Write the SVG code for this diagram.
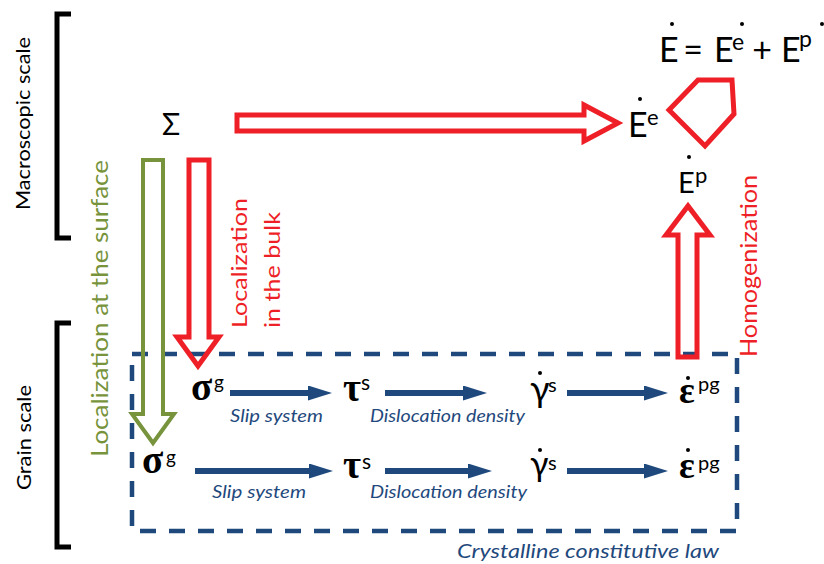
<svg xmlns="http://www.w3.org/2000/svg" width="824" height="564" viewBox="0 0 824 564">
<style>
.sans{font-family:Lato,"Liberation Sans",sans-serif;fill:#000}
.lbl{font-family:Lato,"Liberation Sans",sans-serif;font-size:20px;fill:#000}
.grk{font-family:"Liberation Serif","DejaVu Serif",serif;font-weight:bold;font-size:39px;fill:#000}
.sup{font-family:Lato,"Liberation Sans",sans-serif;font-size:20px;fill:#000}
.it{font-family:Lato,"Liberation Sans",sans-serif;font-style:italic;font-size:17px;fill:#1F497D}
.red{fill:#EE1F26}
.grn{fill:#77933C}
.blk{fill:none;stroke:#EE1F26;stroke-width:5;stroke-linejoin:miter}
.gblk{fill:none;stroke:#77933C;stroke-width:4;stroke-linejoin:miter}
.ba{stroke:#1F497D;stroke-width:6;fill:none}
.dot{fill:#000}
.br{fill:none;stroke:#000;stroke-width:5}
</style>
<defs>
<marker id="ah" viewBox="0 0 24 15" markerUnits="userSpaceOnUse" markerWidth="24" markerHeight="15" refX="12" refY="7.5" orient="auto">
<path d="M0,0 L24,7.5 L0,15 Z" fill="#1F497D"/>
</marker>
</defs>

<g id="scales">
<path class="br" d="M71,14 H57 V238 H71"/>
<path class="br" d="M71,323 H57 V547 H71"/>
<text class="lbl" transform="translate(30,210) rotate(-90)" textLength="173" lengthAdjust="spacingAndGlyphs">Macroscopic scale</text>
<text class="lbl" transform="translate(31,490) rotate(-90)" textLength="105" lengthAdjust="spacingAndGlyphs">Grain scale</text>
</g>

<g id="box">
<rect x="132" y="354" width="605" height="177" fill="none" stroke="#1F497D" stroke-width="4.5" stroke-dasharray="16 13"/>
<text class="it" x="457" y="558" style="font-size:19px" textLength="262" lengthAdjust="spacingAndGlyphs">Crystalline constitutive law</text>
</g>

<g id="connectors">
<polygon class="gblk" points="143,160 163,160 163,414 174,414 153,443 132,414 143,414"/>
<polygon class="blk" points="189,160 209,160 209,337 219,337 198,366 177,337 189,337"/>
<polygon class="blk" points="237,115 584,115 584,105 618,123 584,141 584,131 237,131"/>
<polygon class="blk" points="678,357 697,357 697,235 710,235 688,206 666,235 678,235"/>
<line class="ba" x1="230" y1="393" x2="320" y2="393" marker-end="url(#ah)"/>
<line class="ba" x1="385" y1="393" x2="475" y2="393" marker-end="url(#ah)"/>
<line class="ba" x1="567" y1="393" x2="656" y2="393" marker-end="url(#ah)"/>
<line class="ba" x1="195" y1="471" x2="321" y2="471" marker-end="url(#ah)"/>
<line class="ba" x1="385" y1="471" x2="480" y2="471" marker-end="url(#ah)"/>
<line class="ba" x1="567" y1="471" x2="656" y2="471" marker-end="url(#ah)"/>
</g>

<g id="arrow-labels">
<text class="grn" transform="translate(108,457) rotate(-90)" style="font-family:Lato,'Liberation Sans',sans-serif;font-size:23px" textLength="297" lengthAdjust="spacingAndGlyphs">Localization at the surface</text>
<text class="red" transform="translate(247,328) rotate(-90)" style="font-family:Lato,'Liberation Sans',sans-serif;font-size:22px" textLength="130" lengthAdjust="spacingAndGlyphs">Localization</text>
<text class="red" transform="translate(280,328) rotate(-90)" style="font-family:Lato,'Liberation Sans',sans-serif;font-size:22px" textLength="116" lengthAdjust="spacingAndGlyphs">in the bulk</text>
<text class="red" transform="translate(757,357) rotate(-90)" style="font-family:Lato,'Liberation Sans',sans-serif;font-size:23px" textLength="182" lengthAdjust="spacingAndGlyphs">Homogenization</text>
<text class="it" x="230" y="422" textLength="93" lengthAdjust="spacingAndGlyphs">Slip system</text>
<text class="it" x="370" y="422" textLength="155" lengthAdjust="spacingAndGlyphs">Dislocation density</text>
<text class="it" x="212" y="498" textLength="94" lengthAdjust="spacingAndGlyphs">Slip system</text>
<text class="it" x="370" y="498" textLength="157" lengthAdjust="spacingAndGlyphs">Dislocation density</text>
</g>

<g id="sigma-macro">
<text class="sans" x="171" y="135" text-anchor="middle" style="font-size:30px">Σ</text>
</g>

<g id="equation">
<text class="sans" x="659" y="62" style="font-size:34px">E</text>
<circle class="dot" cx="672" cy="24" r="2"/>
<text class="sans" x="693" y="62" text-anchor="middle" style="font-size:34px">=</text>
<text class="sans" x="714" y="62" style="font-size:34px">E</text>
<text class="sup" x="732" y="50" style="font-size:23px">e</text>
<circle class="dot" cx="742" cy="24" r="2"/>
<text class="sans" x="762" y="62" text-anchor="middle" style="font-size:34px">+</text>
<text class="sans" x="781" y="62" style="font-size:34px">E</text>
<text class="sup" x="799" y="47" style="font-size:23px">p</text>
<circle class="dot" cx="822" cy="24" r="2"/>
</g>

<g id="Ee">
<text class="sans" x="628" y="137" style="font-size:34px">E</text>
<text class="sup" x="647" y="125" style="font-size:22px">e</text>
<circle class="dot" cx="640" cy="99" r="2"/>
</g>

<g id="pentagon">
<polygon class="blk" points="669,110 698,80 732,80 734,114 705,146"/>
</g>

<g id="Ep">
<text class="sans" x="678" y="193" style="font-size:29px">E</text>
<text class="sup" x="695" y="183" style="font-size:22px">p</text>
<circle class="dot" cx="689" cy="157" r="2"/>
</g>

<g id="row1-sigma"><text class="grk" x="191" y="400">σ</text><text class="sup" x="214" y="389" style="font-size:19px">g</text></g>
<g id="row1-tau"><text class="grk" x="343" y="401">τ</text><text class="sup" x="361" y="390" style="font-size:21px">s</text></g>
<g id="row1-gamma"><text class="sans" x="530" y="402" style="font-size:36px">γ</text><text class="sup" x="548" y="392">s</text><circle class="dot" cx="540" cy="373" r="2"/></g>
<g id="row1-eps"><text class="grk" x="679" y="403" style="font-size:37px">ε</text><text class="sup" x="698" y="391">pg</text><circle class="dot" cx="688" cy="378" r="2"/></g>

<g id="row2-sigma"><text class="grk" x="142" y="473">σ</text><text class="sup" x="166" y="464" style="font-size:19px">g</text></g>
<g id="row2-tau"><text class="grk" x="343" y="478">τ</text><text class="sup" x="362" y="469" style="font-size:21px">s</text></g>
<g id="row2-gamma"><text class="sans" x="530" y="476" style="font-size:34px">γ</text><text class="sup" x="548" y="470">s</text><circle class="dot" cx="540" cy="450" r="2"/></g>
<g id="row2-eps"><text class="grk" x="679" y="478" style="font-size:37px">ε</text><text class="sup" x="698" y="470">pg</text><circle class="dot" cx="688" cy="450" r="2"/></g>
</svg>
